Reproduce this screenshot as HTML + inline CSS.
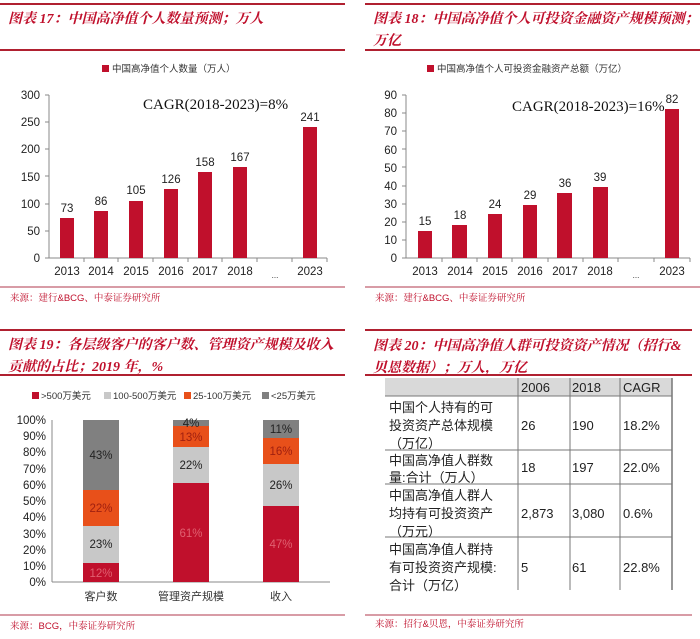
<!DOCTYPE html>
<html><head><meta charset="utf-8"><style>
body{margin:0;background:#fff}
svg{display:block}
.t{font-family:"Liberation Serif","Noto Serif CJK SC",serif;font-style:italic;font-weight:bold;fill:#c0102c;font-size:14px}
.a{font-family:"Liberation Sans",sans-serif;font-size:11.5px;fill:#222}
.c{font-family:"Liberation Sans","Noto Sans CJK SC",sans-serif;fill:#333}
.s{font-family:"Liberation Sans","Noto Serif CJK SC",serif;font-size:9.5px;fill:#c0102c}
.g{font-family:"Liberation Serif",serif;font-size:15px;fill:#111}
.tb{font-family:"Liberation Sans","Noto Sans CJK SC",sans-serif;font-size:13px;fill:#222}
</style></head><body>
<svg width="700" height="639" viewBox="0 0 700 639" xmlns="http://www.w3.org/2000/svg">
<g stroke="#b02030" stroke-width="2">
<line x1="0" y1="4" x2="345" y2="4"/><line x1="0" y1="50" x2="345" y2="50"/>
<line x1="365" y1="4" x2="700" y2="4"/><line x1="365" y1="50" x2="700" y2="50"/>
<line x1="0" y1="330" x2="345" y2="330"/><line x1="0" y1="375" x2="345" y2="375"/>
<line x1="365" y1="330" x2="692" y2="330"/><line x1="365" y1="375" x2="692" y2="375"/>
</g>
<g stroke="#c06070" stroke-width="1.2">
<line x1="0" y1="287" x2="345" y2="287"/><line x1="365" y1="287" x2="700" y2="287"/>
<line x1="0" y1="615" x2="345" y2="615"/><line x1="365" y1="615" x2="692" y2="615"/>
</g>
<text class="t" x="8" y="23">图表 17：中国高净值个人数量预测；万人</text>
<text class="t" x="373" y="23">图表 18：中国高净值个人可投资金融资产规模预测；</text>
<text class="t" x="373" y="45">万亿</text>
<text class="t" x="8" y="349">图表 19：各层级客户的客户数、管理资产规模及收入</text>
<text class="t" x="8" y="371">贡献的占比；2019 年，%</text>
<text class="t" x="373" y="350">图表 20：中国高净值人群可投资资产情况（招行&amp;</text>
<text class="t" x="373" y="372">贝恩数据）；万人，万亿</text>
<text class="s" x="10" y="301">来源：建行&amp;BCG、中泰证券研究所</text>
<text class="s" x="375" y="301">来源：建行&amp;BCG、中泰证券研究所</text>
<text class="s" x="10" y="629">来源：BCG，中泰证券研究所</text>
<text class="s" x="375" y="627">来源：招行&amp;贝恩，中泰证券研究所</text>

<!-- Chart 17 -->
<rect x="102" y="65" width="7" height="7" fill="#c0102c"/>
<text class="c" x="112" y="72" font-size="9.5">中国高净值个人数量（万人）</text>
<g class="a" text-anchor="end">
<text x="40" y="262">0</text><text x="40" y="235">50</text><text x="40" y="208">100</text><text x="40" y="181">150</text><text x="40" y="153">200</text><text x="40" y="126">250</text><text x="40" y="99">300</text>
</g>
<g stroke="#888" stroke-width="1"><line x1="49" y1="95" x2="49" y2="258"/><line x1="45" y1="258" x2="327" y2="258"/>
<line x1="45" y1="95" x2="49" y2="95"/><line x1="45" y1="122" x2="49" y2="122"/><line x1="45" y1="149" x2="49" y2="149"/><line x1="45" y1="176" x2="49" y2="176"/><line x1="45" y1="204" x2="49" y2="204"/><line x1="45" y1="231" x2="49" y2="231"/>
<line x1="84" y1="258" x2="84" y2="262"/><line x1="118" y1="258" x2="118" y2="262"/><line x1="153" y1="258" x2="153" y2="262"/><line x1="188" y1="258" x2="188" y2="262"/><line x1="222" y1="258" x2="222" y2="262"/><line x1="257" y1="258" x2="257" y2="262"/><line x1="292" y1="258" x2="292" y2="262"/><line x1="327" y1="258" x2="327" y2="262"/></g>
<g fill="#c0102c">
<rect x="60" y="218" width="14" height="40"/><rect x="94" y="211" width="14" height="47"/><rect x="129" y="201" width="14" height="57"/><rect x="164" y="189" width="14" height="69"/><rect x="198" y="172" width="14" height="86"/><rect x="233" y="167" width="14" height="91"/><rect x="303" y="127" width="14" height="131"/>
</g>
<g class="a" text-anchor="middle">
<text x="67" y="212">73</text><text x="101" y="205">86</text><text x="136" y="194">105</text><text x="171" y="183">126</text><text x="205" y="166">158</text><text x="240" y="161">167</text><text x="310" y="121">241</text>
<text x="67" y="275">2013</text><text x="101" y="275">2014</text><text x="136" y="275">2015</text><text x="171" y="275">2016</text><text x="205" y="275">2017</text><text x="240" y="275">2018</text><text x="275" y="278" font-size="8">...</text><text x="310" y="275">2023</text>
</g>
<text class="g" x="143" y="109">CAGR(2018-2023)=8%</text>

<!-- Chart 18 -->
<rect x="427" y="65" width="7" height="7" fill="#c0102c"/>
<text class="c" x="437" y="72" font-size="9.5">中国高净值个人可投资金融资产总额（万亿）</text>
<g class="a" text-anchor="end">
<text x="397" y="262">0</text><text x="397" y="244">10</text><text x="397" y="226">20</text><text x="397" y="208">30</text><text x="397" y="190">40</text><text x="397" y="172">50</text><text x="397" y="154">60</text><text x="397" y="135">70</text><text x="397" y="117">80</text><text x="397" y="99">90</text>
</g>
<g stroke="#888" stroke-width="1"><line x1="406" y1="95" x2="406" y2="258"/><line x1="402" y1="258" x2="690" y2="258"/>
<line x1="402" y1="95" x2="406" y2="95"/><line x1="402" y1="113" x2="406" y2="113"/><line x1="402" y1="131" x2="406" y2="131"/><line x1="402" y1="149" x2="406" y2="149"/><line x1="402" y1="167" x2="406" y2="167"/><line x1="402" y1="186" x2="406" y2="186"/><line x1="402" y1="204" x2="406" y2="204"/><line x1="402" y1="222" x2="406" y2="222"/><line x1="402" y1="240" x2="406" y2="240"/>
<line x1="442" y1="258" x2="442" y2="262"/><line x1="477" y1="258" x2="477" y2="262"/><line x1="512" y1="258" x2="512" y2="262"/><line x1="548" y1="258" x2="548" y2="262"/><line x1="583" y1="258" x2="583" y2="262"/><line x1="618" y1="258" x2="618" y2="262"/><line x1="654" y1="258" x2="654" y2="262"/><line x1="690" y1="258" x2="690" y2="262"/></g>
<g fill="#c0102c">
<rect x="418" y="231" width="14" height="27"/><rect x="452" y="225" width="15" height="33"/><rect x="488" y="214" width="14" height="44"/><rect x="523" y="205" width="14" height="53"/><rect x="557" y="193" width="15" height="65"/><rect x="593" y="187" width="15" height="71"/><rect x="665" y="109" width="14" height="149"/>
</g>
<g class="a" text-anchor="middle">
<text x="425" y="225">15</text><text x="460" y="219">18</text><text x="495" y="208">24</text><text x="530" y="199">29</text><text x="565" y="187">36</text><text x="600" y="181">39</text><text x="672" y="103">82</text>
<text x="425" y="275">2013</text><text x="460" y="275">2014</text><text x="495" y="275">2015</text><text x="530" y="275">2016</text><text x="565" y="275">2017</text><text x="600" y="275">2018</text><text x="636" y="278" font-size="8">...</text><text x="672" y="275">2023</text>
</g>
<text class="g" x="512" y="111">CAGR(2018-2023)=16%</text>

<!-- Chart 19 -->
<g class="c" font-size="9.5">
<rect x="32" y="392" width="7" height="7" fill="#c0102c"/><text x="41" y="399">&gt;500万美元</text>
<rect x="104" y="392" width="7" height="7" fill="#c8c8c8"/><text x="113" y="399">100-500万美元</text>
<rect x="184" y="392" width="7" height="7" fill="#e8501a"/><text x="193" y="399">25-100万美元</text>
<rect x="262" y="392" width="7" height="7" fill="#808080"/><text x="271" y="399">&lt;25万美元</text>
</g>
<g class="a" text-anchor="end" font-size="11">
<text x="46" y="586">0%</text><text x="46" y="570">10%</text><text x="46" y="554">20%</text><text x="46" y="538">30%</text><text x="46" y="521">40%</text><text x="46" y="505">50%</text><text x="46" y="489">60%</text><text x="46" y="473">70%</text><text x="46" y="456">80%</text><text x="46" y="440">90%</text><text x="46" y="424">100%</text>
</g>
<g stroke="#888"><line x1="52" y1="420" x2="52" y2="582"/><line x1="52" y1="582" x2="330" y2="582"/></g>
<rect x="83" y="563" width="36" height="19" fill="#c0102c"/>
<rect x="83" y="526" width="36" height="37" fill="#c8c8c8"/>
<rect x="83" y="490" width="36" height="36" fill="#e8501a"/>
<rect x="83" y="420" width="36" height="70" fill="#808080"/>
<rect x="173" y="483" width="36" height="99" fill="#c0102c"/>
<rect x="173" y="447" width="36" height="36" fill="#c8c8c8"/>
<rect x="173" y="426" width="36" height="21" fill="#e8501a"/>
<rect x="173" y="420" width="36" height="6" fill="#808080"/>
<rect x="263" y="506" width="36" height="76" fill="#c0102c"/>
<rect x="263" y="464" width="36" height="42" fill="#c8c8c8"/>
<rect x="263" y="438" width="36" height="26" fill="#e8501a"/>
<rect x="263" y="420" width="36" height="18" fill="#808080"/>
<g class="a" text-anchor="middle" font-size="11">
<text x="101" y="577" fill="#e06070">12%</text><text x="101" y="548">23%</text><text x="101" y="512" fill="#a02010">22%</text><text x="101" y="459">43%</text>
<text x="191" y="537" fill="#e06070">61%</text><text x="191" y="469">22%</text><text x="191" y="441" fill="#a02010">13%</text><text x="191" y="427">4%</text>
<text x="281" y="548" fill="#e06070">47%</text><text x="281" y="489">26%</text><text x="281" y="455" fill="#a02010">16%</text><text x="281" y="433">11%</text>
</g>
<g class="c" font-size="11" text-anchor="middle">
<text x="101" y="600">客户数</text><text x="191" y="600">管理资产规模</text><text x="281" y="600">收入</text>
</g>

<!-- Table 20 -->
<rect x="385" y="378" width="287" height="18" fill="#d9d9d9"/>
<g stroke="#777" stroke-width="1" fill="none">
<line x1="518" y1="378" x2="518" y2="590"/><line x1="570" y1="378" x2="570" y2="590"/><line x1="620" y1="378" x2="620" y2="590"/><line x1="672" y1="378" x2="672" y2="590" stroke-width="1.5"/>
<line x1="385" y1="396" x2="672" y2="396"/><line x1="385" y1="450" x2="672" y2="450"/><line x1="385" y1="484" x2="672" y2="484"/><line x1="385" y1="537" x2="672" y2="537"/>
</g>
<g class="tb">
<text x="521" y="392">2006</text><text x="572" y="392">2018</text><text x="623" y="392">CAGR</text>
<text x="389" y="412">中国个人持有的可</text><text x="389" y="430">投资资产总体规模</text><text x="389" y="448">（万亿）</text>
<text x="521" y="430">26</text><text x="572" y="430">190</text><text x="623" y="430">18.2%</text>
<text x="389" y="465">中国高净值人群数</text><text x="389" y="482">量:合计（万人）</text>
<text x="521" y="472">18</text><text x="572" y="472">197</text><text x="623" y="472">22.0%</text>
<text x="389" y="500">中国高净值人群人</text><text x="389" y="518">均持有可投资资产</text><text x="389" y="536">（万元）</text>
<text x="521" y="518">2,873</text><text x="572" y="518">3,080</text><text x="623" y="518">0.6%</text>
<text x="389" y="554">中国高净值人群持</text><text x="389" y="572">有可投资资产规模:</text><text x="389" y="590">合计（万亿）</text>
<text x="521" y="572">5</text><text x="572" y="572">61</text><text x="623" y="572">22.8%</text>
</g>
</svg>
</body></html>
